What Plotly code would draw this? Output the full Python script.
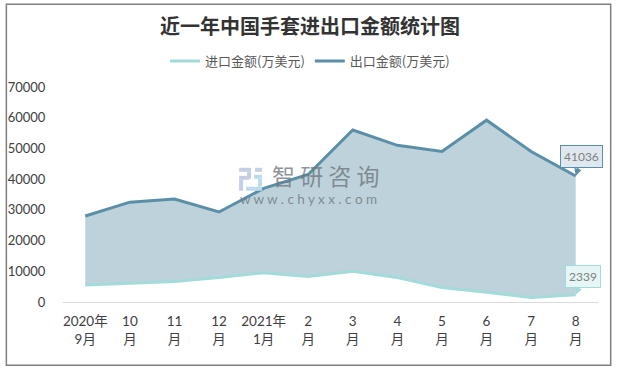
import plotly.graph_objects as go

categories = ["2020年<br>9月", "10<br>月", "11<br>月", "12<br>月", "2021年<br>1月", "2<br>月",
              "3<br>月", "4<br>月", "5<br>月", "6<br>月", "7<br>月", "8<br>月"]
imports = [5500, 6000, 6700, 8000, 9500, 8300, 10000, 8000, 4700, 3200, 1500, 2339]
exports = [28000, 32500, 33500, 29300, 37000, 41500, 56000, 51000, 49000, 59200, 49000, 41036]
y_ticks = [0, 10000, 20000, 30000, 40000, 50000, 60000, 70000]

W, H = 617, 372
L, R, T, B = 62.7, 598.3, 87, 302.5
FONT = "Lato, 'Noto Sans CJK SC', sans-serif"
CJK = "'Noto Sans CJK SC', sans-serif"


def px(x):
    return (x - L) / (R - L)


def py(y):
    return (B - y) / (B - T)


fig = go.Figure()
fig.add_trace(go.Scatter(x=categories, y=imports, name="进口金额(万美元)", mode="lines",
                         line=dict(color="#a3dbdb", width=3)))
fig.add_trace(go.Scatter(x=categories, y=exports, mode="lines", showlegend=False, hoverinfo="skip",
                         fill="tonexty", fillcolor="#bed2dc", line=dict(width=0)))
fig.add_trace(go.Scatter(x=categories, y=exports, name="出口金额(万美元)", mode="lines",
                         line=dict(color="#5b8fa8", width=3)))

shapes = [dict(type="rect", xref="paper", yref="paper", x0=px(6), x1=px(611), y0=py(366), y1=py(4),
               line=dict(color="#7f7f7f", width=1.5), fillcolor="rgba(0,0,0,0)", layer="below")]
# watermark logo
for (x0, y0, x1, y1, c) in [(239, 168, 251, 172, "#c4cfe6"), (247, 172, 251, 179, "#c4cfe6"),
                            (239, 176, 249, 180, "#c4cfe6"), (239, 180, 243, 191, "#c4cfe6"),
                            (246, 187, 262, 191, "#bcdcee"), (254, 175, 262, 179, "#bcdcee"),
                            (258, 179, 262, 187, "#bcdcee"), (255, 168, 262, 172, "#c4cfe6")]:
    shapes.append(dict(type="rect", xref="paper", yref="paper", x0=px(x0), x1=px(x1), y0=py(y1), y1=py(y0),
                       fillcolor=c, line=dict(width=0), layer="above"))

last = categories[-1]
annotations = [
    dict(xref="paper", yref="paper", x=px(325), y=py(175.5), text="智 研 咨 询", showarrow=False,
         font=dict(family=CJK, size=23, color="rgba(110,120,125,0.8)")),
    dict(xref="paper", yref="paper", x=px(308), y=py(199.5), text="w w w . c h y x x . c o m", showarrow=False,
         font=dict(family=FONT, size=13.5, color="rgba(110,120,125,0.8)")),
    dict(x=last, y=exports[-1], text=str(exports[-1]), showarrow=True, arrowhead=2, arrowsize=1, arrowwidth=1.5,
         arrowcolor="#5b8fa8", ax=6, ay=-19, standoff=0,
         bgcolor="#dfe8ef", bordercolor="#5b8fa8", borderwidth=1, borderpad=3,
         font=dict(family=FONT, size=12, color="#7f7f7f")),
    dict(x=last, y=imports[-1], text=str(imports[-1]), showarrow=True, arrowhead=2, arrowsize=1, arrowwidth=1.5,
         arrowcolor="#a3dbdb", ax=7, ay=-18, standoff=0,
         bgcolor="#e6f5f5", bordercolor="#a3dbdb", borderwidth=1, borderpad=3,
         font=dict(family=FONT, size=12, color="#7f7f7f")),
]

fig.update_layout(
    width=W, height=H, autosize=False,
    margin=dict(l=L, r=W - R, t=T, b=H - B, pad=0),
    paper_bgcolor="white", plot_bgcolor="white",
    font=dict(family=FONT, size=13, color="#404040"),
    title=dict(text="<b>近一年中国手套进出口金额统计图</b>", x=310 / W, xanchor="center",
               y=1 - 27 / H, yanchor="middle",
               font=dict(family=CJK, size=20, color="#333333")),
    legend=dict(orientation="h", x=px(310), xanchor="center", y=py(61), yanchor="middle",
                font=dict(family=CJK, size=13, color="#595959"), bgcolor="rgba(0,0,0,0)",
                traceorder="normal"),
    xaxis=dict(type="category", range=[-0.5, 11.5], showgrid=False, zeroline=False, automargin=False,
               showline=True, linecolor="#d9d9d9", linewidth=1, ticks="outside", ticklen=7,
               tickcolor="rgba(0,0,0,0)", tickangle=0,
               tickfont=dict(size=13.5, color="#404040")),
    yaxis=dict(range=[0, 70000], tickvals=y_ticks, showgrid=False, zeroline=False, showline=False,
               automargin=False, ticks="outside", ticklen=14, tickcolor="rgba(0,0,0,0)", tickformat="d",
               tickfont=dict(size=13, color="#404040")),
    shapes=shapes, annotations=annotations,
)

fig.write_html("out.html", config={"displayModeBar": False},
               post_script="document.body.style.margin='0';")
